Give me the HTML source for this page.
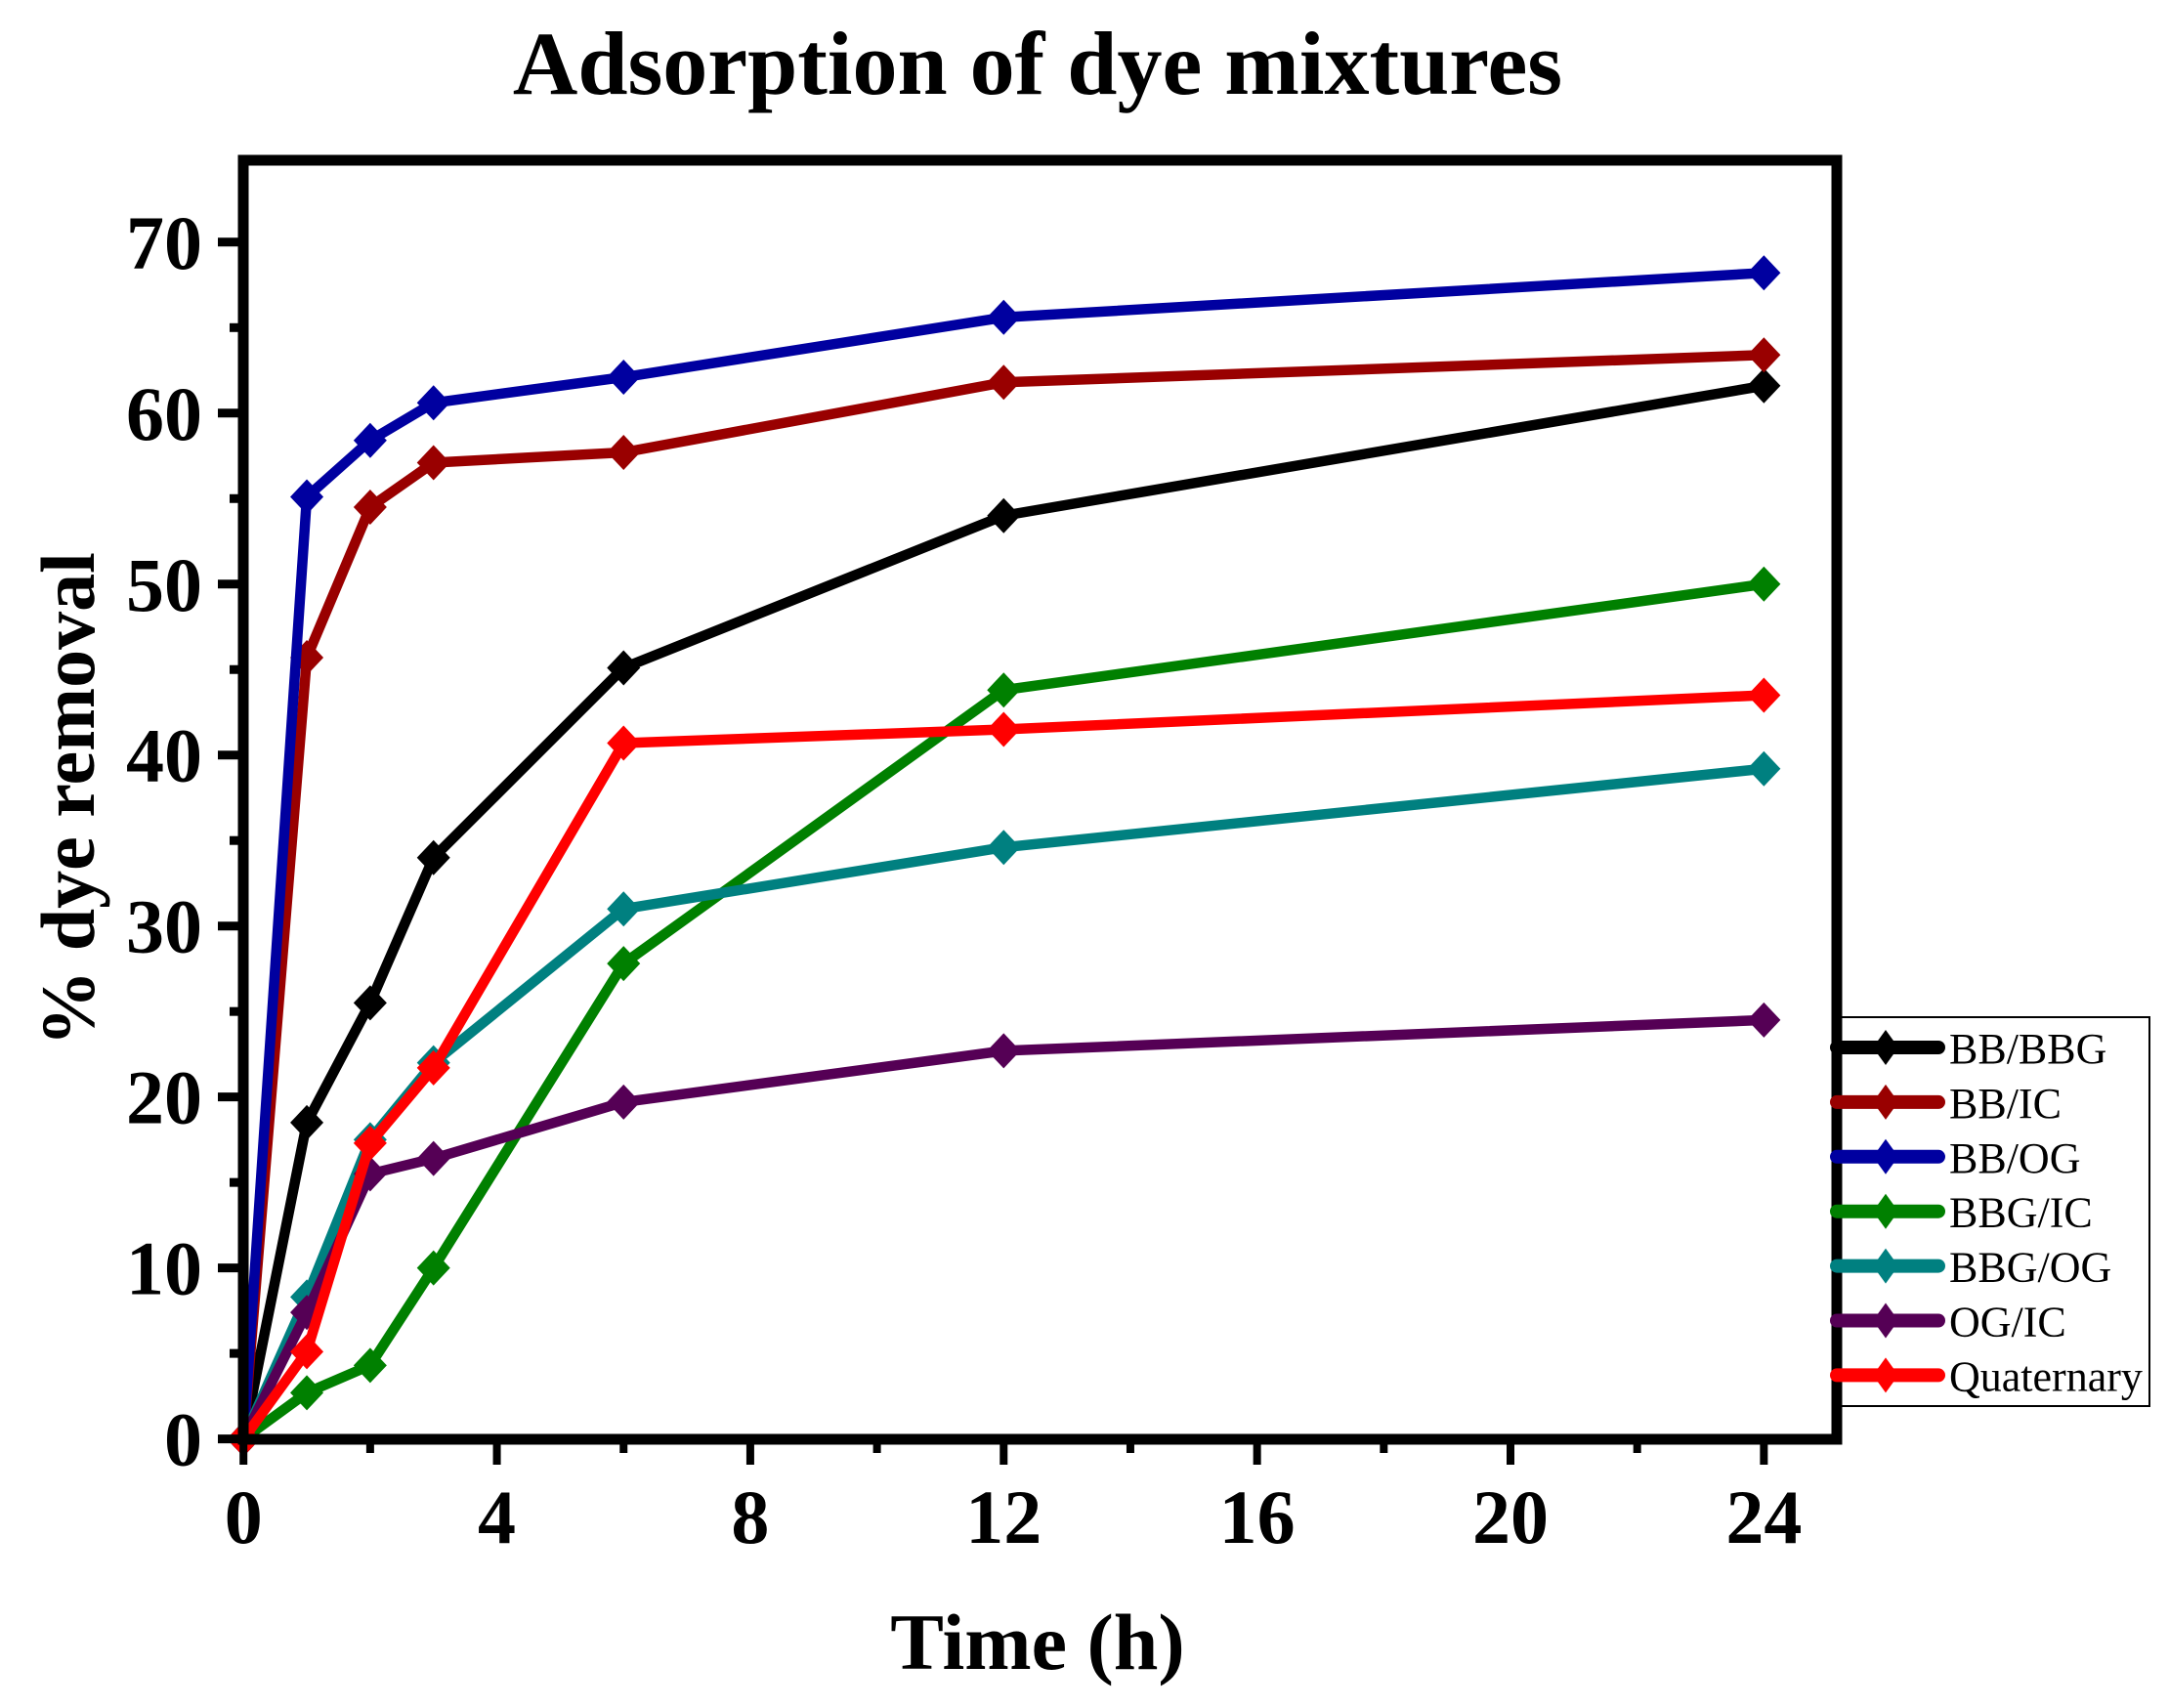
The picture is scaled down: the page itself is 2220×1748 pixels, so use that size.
<!DOCTYPE html>
<html><head><meta charset="utf-8"><style>
html,body{margin:0;padding:0;background:#fff;}
svg{display:block;}
</style></head><body>
<svg id="s" width="2220" height="1748" xmlns="http://www.w3.org/2000/svg" font-family="'Liberation Serif', serif">
<rect width="2220" height="1748" fill="#fff"/>
<text x="1062" y="96" font-size="92" font-weight="bold" text-anchor="middle">Adsorption of dye mixtures</text>
<text x="1062" y="1708" font-size="82" font-weight="bold" text-anchor="middle">Time (h)</text>
<text transform="translate(96,818) rotate(-90)" font-size="78" font-weight="bold" text-anchor="middle">% dye removal</text>
<g id="plot"></g>
</svg>
<script>
const X0=249.2, XS=64.84, Y0=1472.6, YS=17.497;
const L=249, R=1880, T=164, B=1473;
const fx=x=>X0+x*XS, fy=y=>Y0-y*YS;
const g=document.getElementById('plot');
let h='';
const xs=[0,1,2,3,6,12,24];
const series=[
 ['BB/BBG','#000000',[0,18.5,25.5,34,45.1,54,61.6]],
 ['BB/IC','#990000',[0,45.7,54.5,57.1,57.7,61.8,63.4]],
 ['BB/OG','#0000a0',[0,55.1,58.4,60.6,62.1,65.6,68.2]],
 ['BBG/IC','#008000',[0,2.7,4.3,10,27.8,43.8,50]],
 ['BBG/OG','#008080',[0,8.3,17.5,22,31,34.6,39.2]],
 ['OG/IC','#550055',[0,7.4,15.5,16.4,19.7,22.7,24.5]],
 ['Quaternary','#ff0000',[0,5.1,17.3,21.7,40.7,41.5,43.5]]
];
const dm=(cx,cy,w,hh,c)=>`<polygon points="${cx},${cy-hh} ${cx+w},${cy} ${cx},${cy+hh} ${cx-w},${cy}" fill="${c}"/>`;
for(const [n,c,ys] of series){
  h+=`<polyline fill="none" stroke="${c}" stroke-width="10.5" stroke-linejoin="round" points="${xs.map((x,i)=>fx(x)+','+fy(ys[i])).join(' ')}"/>`;
  xs.forEach((x,i)=>{h+=dm(fx(x),fy(ys[i]),17,18,c);});
}
h+=`<rect x="${L}" y="${T}" width="${R-L}" height="${B-T}" fill="none" stroke="#000" stroke-width="11"/>`;
for(let v=0;v<=70;v+=5){
  const y=fy(v); const len=v%10==0?26:14;
  h+=`<line x1="${L-len}" x2="${L}" y1="${y}" y2="${y}" stroke="#000" stroke-width="9"/>`;
  if(v%10==0) h+=`<text x="207" y="${y+27}" font-size="78" font-weight="bold" text-anchor="end">${v}</text>`;
}
for(let v=0;v<=24;v+=2){
  const x=fx(v); const len=v%4==0?26:14;
  h+=`<line x1="${x}" x2="${x}" y1="${B}" y2="${B+len}" stroke="#000" stroke-width="8"/>`;
  if(v%4==0) h+=`<text x="${x}" y="1579" font-size="78" font-weight="bold" text-anchor="middle">${v}</text>`;
}
h+=`<rect x="1882" y="1041" width="318" height="398" fill="#fff" stroke="#000" stroke-width="2"/>`;
h+=`<line x1="${R}" x2="${R}" y1="${T}" y2="${B}" stroke="#000" stroke-width="11"/>`;
series.forEach(([n,c],i)=>{
  const y=1072+i*55.9;
  h+=`<line x1="1880" x2="1984" y1="${y}" y2="${y}" stroke="${c}" stroke-width="14" stroke-linecap="round"/>`;
  h+=dm(1930,y,13,18,c);
  h+=`<text x="1995" y="${y+16}" font-size="44">${n}</text>`;
});
g.innerHTML=h;
</script>
</body></html>
